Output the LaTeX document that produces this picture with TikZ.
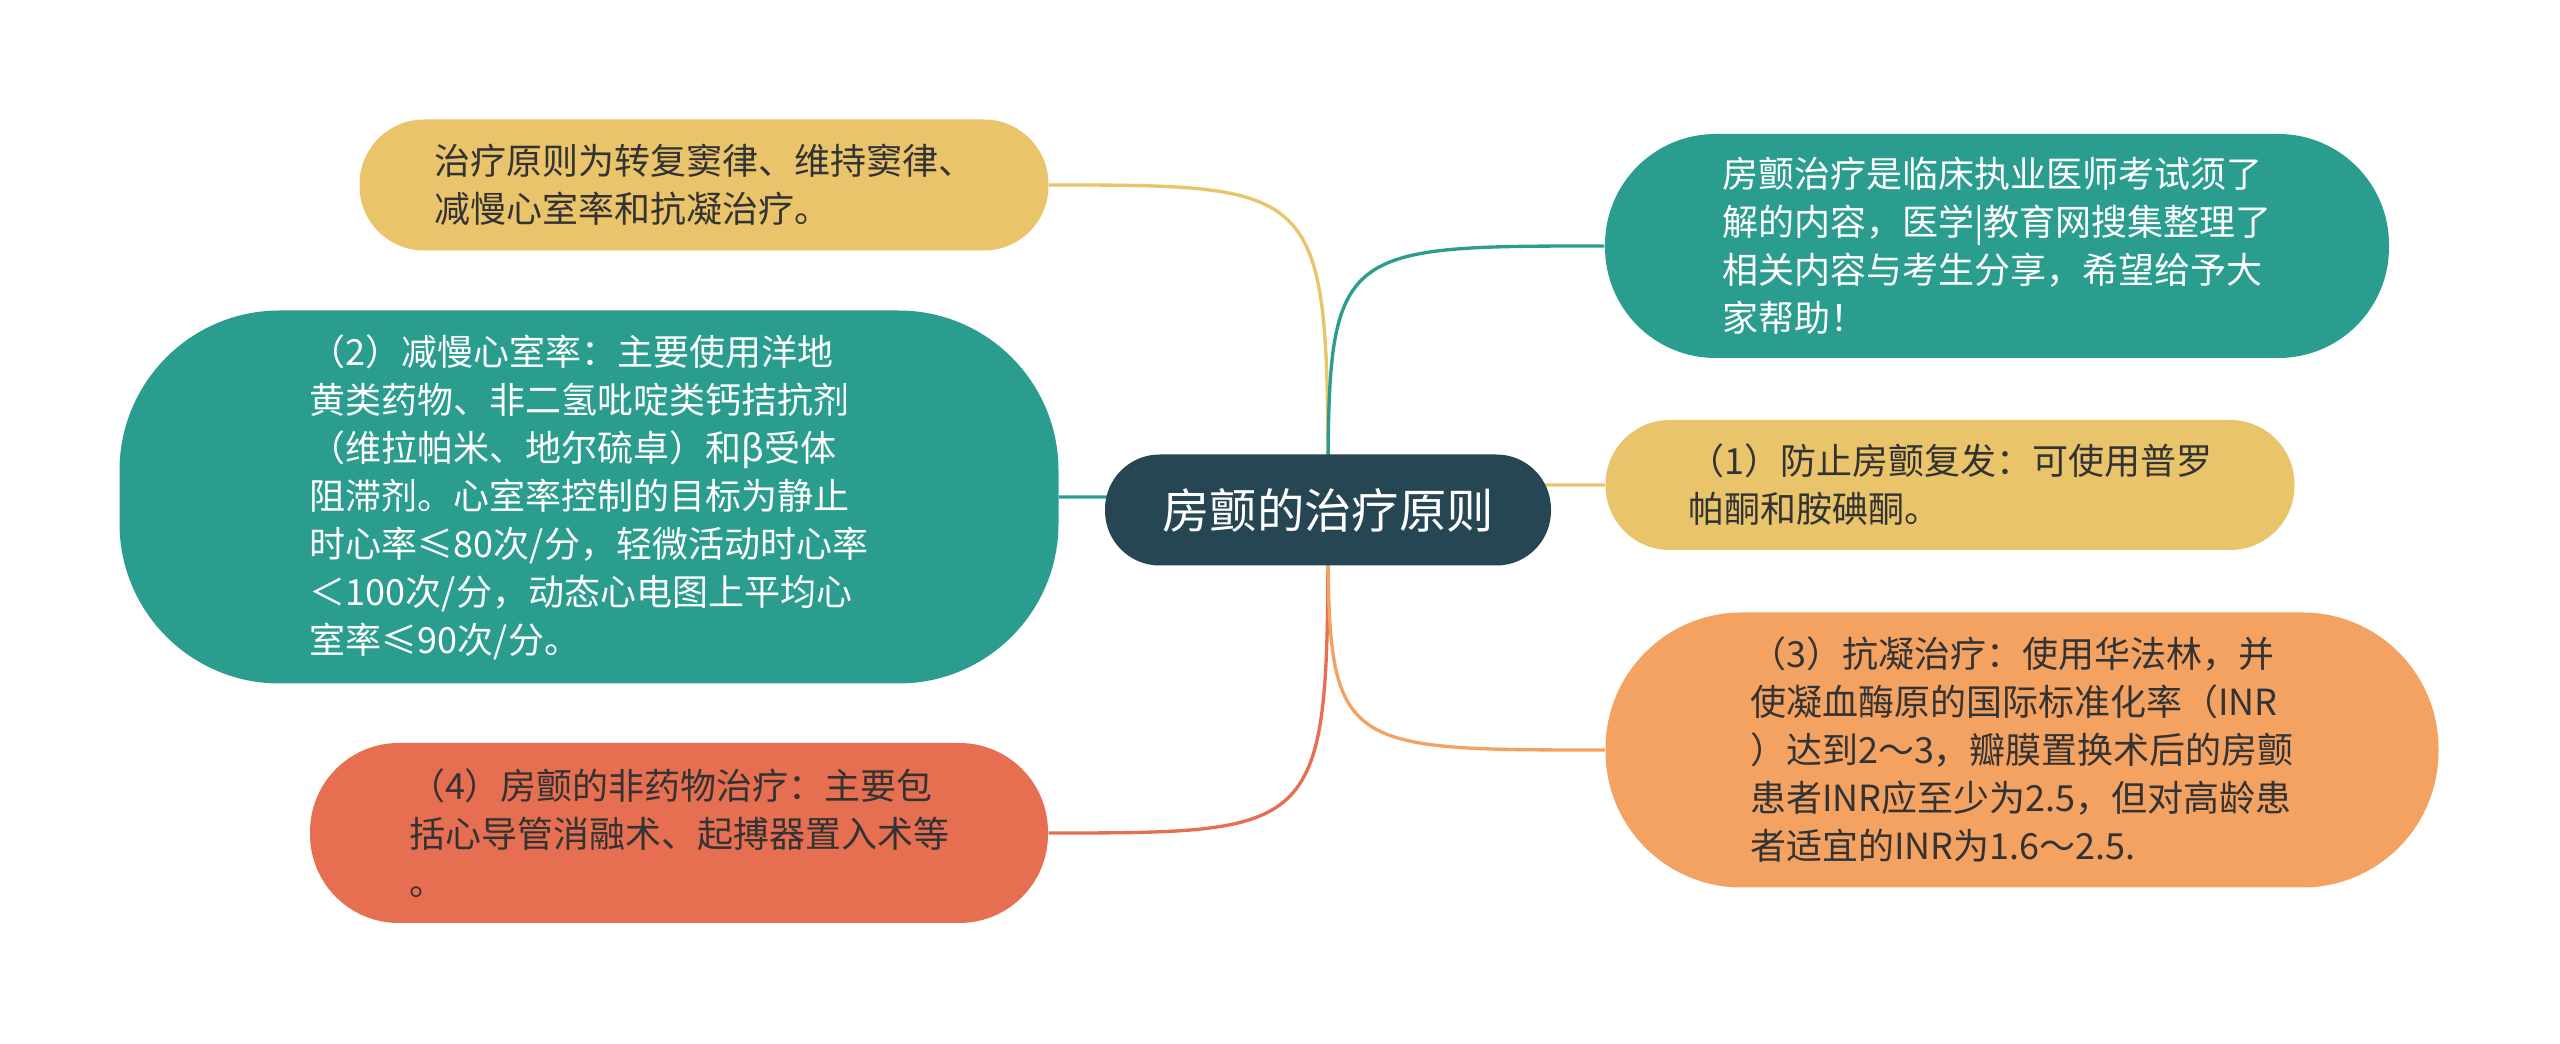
\documentclass[tikz,border=0pt]{standalone}
\usepackage{fontspec}
\setmainfont{Noto Sans CJK SC}
\usetikzlibrary{backgrounds}
\definecolor{cdark}{HTML}{264653}
\definecolor{cteal}{HTML}{2A9D8F}
\definecolor{cyellow}{HTML}{E9C46A}
\definecolor{corange}{HTML}{F4A261}
\definecolor{cred}{HTML}{E76F51}
\definecolor{ctext}{HTML}{333333}
\begin{document}
\begin{tikzpicture}[x=0.3pt,y=-0.3pt,
  box/.style={rectangle, inner sep=0pt, align=left,
    font=\fontsize{10.8pt}{14.4pt}\selectfont},
  lightbox/.style={box, text=ctext},
  darkbox/.style={box, text=white},
  link/.style={line width=1pt}]
\useasboundingbox (0,0) rectangle (2560,1044);

\node[rectangle, inner sep=0pt, fill=cdark, text=white, rounded corners=16.4pt,
  minimum width=133.8pt, minimum height=33.3pt,
  font=\fontsize{14.2pt}{17pt}\selectfont] (c) at (1328,510) {房颤的治疗原则};

\node[lightbox, fill=cyellow, rounded corners=19.4pt,
  minimum width=206.7pt, minimum height=39.3pt] (tl) at (704,185)
  {治疗原则为转复窦律、维持窦律、\\减慢心室率和抗凝治疗。};

\node[darkbox, fill=cteal, rounded corners=48pt,
  minimum width=281.7pt, minimum height=111.9pt] (lt) at (589,497)
  {（2）减慢心室率：主要使用洋地\\黄类药物、非二氢吡啶类钙拮抗剂\\（维拉帕米、地尔硫卓）和β受体\\阻滞剂。心室率控制的目标为静止\\时心率≤80次/分，轻微活动时心率\\＜100次/分，动态心电图上平均心\\室率≤90次/分。};

\node[lightbox, fill=cred, rounded corners=26.6pt,
  minimum width=221.4pt, minimum height=54pt] (bl) at (679,833)
  {（4）房颤的非药物治疗：主要包\\括心导管消融术、起搏器置入术等\\。};

\node[darkbox, fill=cteal, rounded corners=33.2pt,
  minimum width=235.2pt, minimum height=67.2pt] (rt) at (1997,246)
  {房颤治疗是临床执业医师考试须了\\解的内容，医学|教育网搜集整理了\\相关内容与考生分享，希望给予大\\家帮助！};

\node[lightbox, fill=cyellow, rounded corners=19.3pt,
  minimum width=206.7pt, minimum height=39pt] (ry) at (1950,485)
  {（1）防止房颤复发：可使用普罗\\帕酮和胺碘酮。};

\node[lightbox, fill=corange, rounded corners=40.8pt,
  minimum width=249.9pt, minimum height=82.5pt] (ro) at (2022,750)
  {（3）抗凝治疗：使用华法林，并\\使凝血酶原的国际标准化率（INR\\）达到2～3，瓣膜置换术后的房颤\\患者INR应至少为2.5，但对高龄患\\者适宜的INR为1.6～2.5.};

\begin{pgfonlayer}{background}
\fill[white] (0,0) rectangle (2560,1044);
\draw[link, cyellow] (c.center) .. controls (c.center |- tl.east) .. (tl.east);
\draw[link, cteal] (c.center) .. controls (c.center |- lt.east) .. (lt.east);
\draw[link, cred] (c.center) .. controls (c.center |- bl.east) .. (bl.east);
\draw[link, cteal] (c.center) .. controls (c.center |- rt.west) .. (rt.west);
\draw[link, cyellow] (c.center) .. controls (c.center |- ry.west) .. (ry.west);
\draw[link, corange] (c.center) .. controls (c.center |- ro.west) .. (ro.west);
\end{pgfonlayer}
\end{tikzpicture}
\end{document}
